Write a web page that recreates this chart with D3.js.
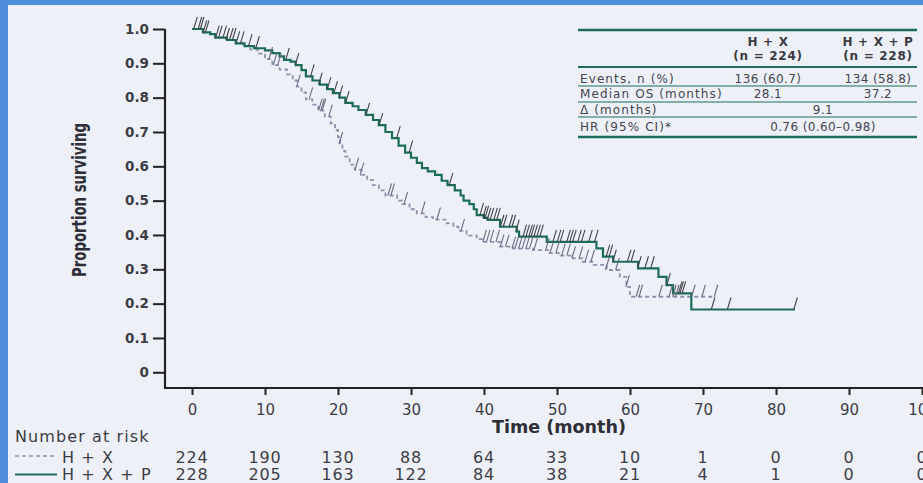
<!DOCTYPE html>
<html>
<head>
<meta charset="utf-8">
<script src="https://cdn.jsdelivr.net/npm/d3@7"></script>
<style>
  html, body { margin: 0; padding: 0; background: #eef0f8; overflow: hidden; }
  svg { display: block; }
</style>
</head>
<body>
<svg id="chart" width="923" height="483"></svg>
<script>
// ---- data ----
const xTicks = [0, 10, 20, 30, 40, 50, 60, 70, 80, 90, 100];
const yTicks = [0, 0.1, 0.2, 0.3, 0.4, 0.5, 0.6, 0.7, 0.8, 0.9, 1.0];
const yTickLabels = ["0", "0.1", "0.2", "0.3", "0.4", "0.5", "0.6", "0.7", "0.8", "0.9", "1.0"];
const groupNames = ["H + X", "H + X + P"];

// Number at risk at each x tick
const atRiskHX  = [224, 190, 130, 88, 64, 33, 10, 1, 0, 0, 0];
const atRiskHXP = [228, 205, 163, 122, 84, 38, 21, 4, 1, 0, 0];

// Kaplan-Meier steps: [month, proportion surviving after the step]
const stepsHX = [
  [0, 1.0], [1.5, 0.99], [2.5, 0.985], [3.2, 0.975], [4.8, 0.968], [6.0, 0.958],
  [7.0, 0.95], [8.0, 0.94], [9.0, 0.928], [10.0, 0.912], [11.0, 0.895], [12.0, 0.882],
  [13.0, 0.868], [13.8, 0.85], [14.4, 0.832], [15.0, 0.815], [15.6, 0.795], [16.5, 0.78],
  [17.3, 0.762], [18.2, 0.745], [19.0, 0.725], [19.6, 0.705], [20.0, 0.685], [20.3, 0.665],
  [20.6, 0.645], [21.0, 0.628], [21.6, 0.605], [22.3, 0.59], [23.2, 0.575], [24.0, 0.56],
  [24.8, 0.545], [25.6, 0.53], [26.5, 0.515], [28.1, 0.5], [28.8, 0.49], [29.8, 0.475],
  [30.8, 0.463], [32.0, 0.452], [33.0, 0.445], [34.9, 0.434], [35.8, 0.424], [36.5, 0.412],
  [37.6, 0.398], [39.0, 0.388], [40.0, 0.38], [42.2, 0.366], [44.0, 0.36], [46.7, 0.356],
  [49.0, 0.347], [50.5, 0.34], [52.2, 0.332], [53.5, 0.322], [55.0, 0.313], [56.8, 0.298],
  [58.6, 0.278], [59.5, 0.249], [60.0, 0.22]
];
const lastHX = 71.7;

const stepsHXP = [
  [0, 1.0], [1.5, 0.99], [2.5, 0.985], [3.2, 0.975], [4.8, 0.968], [6.0, 0.958],
  [7.2, 0.95], [8.5, 0.944], [10.0, 0.938], [11.0, 0.93], [12.0, 0.92], [12.6, 0.91],
  [13.5, 0.905], [14.2, 0.895], [15.0, 0.88], [15.6, 0.862], [16.5, 0.85], [17.5, 0.838],
  [18.5, 0.825], [19.3, 0.813], [20.2, 0.8], [21.0, 0.785], [22.0, 0.775], [22.8, 0.764],
  [23.8, 0.75], [24.8, 0.735], [25.6, 0.72], [26.5, 0.7], [27.4, 0.682], [28.3, 0.66],
  [29.2, 0.64], [30.0, 0.625], [30.8, 0.61], [31.5, 0.595], [32.3, 0.585], [33.3, 0.575],
  [34.2, 0.558], [35.0, 0.545], [36.0, 0.53], [36.8, 0.515], [37.2, 0.5], [38.0, 0.49],
  [38.6, 0.475], [39.0, 0.458], [40.0, 0.45], [40.5, 0.444], [42.2, 0.424], [44.5, 0.41],
  [44.8, 0.395], [48.6, 0.38], [55.4, 0.361], [56.3, 0.337], [57.7, 0.322], [61.1, 0.303],
  [63.9, 0.278], [65.0, 0.254], [65.9, 0.23], [68.4, 0.183]
];
const lastHXP = 82.6;

// Censoring times (months)
const censorHX = [
  10.7, 11.3, 11.9, 14.5, 16.2, 17.5, 17.8, 18.0, 18.9, 20.3, 22.5, 23.2, 27.0, 27.4,
  29.2, 31.6, 33.7, 37.0, 40.0, 40.5, 41.0, 41.8, 42.4, 43.1, 44.0, 44.4, 44.9, 45.4,
  45.9, 46.4, 47.0, 48.6, 49.2, 50.0, 50.8, 51.5, 52.2, 53.2, 54.0, 54.8, 56.8, 58.2,
  59.6, 61.0, 61.4, 64.1, 65.5, 66.0, 66.4, 68.6, 70.0, 71.7
];
const censorHXP = [
  0.4, 1.0, 1.3, 1.7, 2.0, 3.4, 3.8, 4.4, 4.8, 5.3, 5.7, 6.2, 6.8, 7.9, 8.9, 13.0,
  14.3, 16.4, 17.5, 18.7, 19.6, 20.3, 21.2, 24.0, 25.8, 28.2, 29.9, 35.4, 39.6, 40.0,
  40.3, 40.6, 41.0, 41.5, 41.9, 42.4, 42.8, 43.6, 44.0, 44.5, 45.5, 45.9, 46.3, 46.6,
  47.0, 47.4, 47.8, 49.6, 50.2, 50.6, 51.5, 51.9, 52.3, 53.0, 53.5, 54.5, 55.3, 56.9,
  57.3, 57.8, 59.8, 60.3, 61.2, 62.2, 63.0, 65.2, 66.8, 67.0, 67.3, 71.3, 73.5, 82.6
];

// Summary table
const tableHeader = [["H + X", "(n = 224)"], ["H + X + P", "(n = 228)"]];
const tableLabels = ["Events, n (%)", "Median OS (months)", "\u0394 (months)", "HR (95% CI)*"];
const tableHX  = ["136 (60.7)", "28.1"];
const tableHXP = ["134 (58.8)", "37.2"];
const tableJoint = ["9.1", "0.76 (0.60\u20130.98)"];

// ---- drawing ----
const svg = d3.select("#chart");
const W = 923, H = 483;
const green = "#1c6c58";
const dashCol = "#8c92ab";
const inkCol = "#3c3d45";
const font = "'DejaVu Sans', sans-serif";

// frame accents
svg.append("rect").attr("x", 0).attr("y", 0).attr("width", W).attr("height", H).attr("fill", "#eef0f8");
svg.append("rect").attr("x", 0).attr("y", 0).attr("width", W).attr("height", 5).attr("fill", "#4f8ddb");
svg.append("rect").attr("x", 0).attr("y", 0).attr("width", 8).attr("height", H).attr("fill", "#4f8ddb");

const x = d3.scaleLinear().domain([0, 100]).range([192, 922]);
const y = d3.scaleLinear().domain([0, 1]).range([372.3, 29]);
const axisX0 = 165, axisY0 = 388;

// y axis
const yAxis = d3.axisLeft(y).tickValues(yTicks)
  .tickFormat((d, i) => yTickLabels[i]).tickSize(12).tickPadding(4).tickSizeOuter(0);
const gy = svg.append("g").attr("transform", `translate(${axisX0},0)`).call(yAxis);
gy.select(".domain").remove();
gy.selectAll(".tick line").attr("stroke", "#222").attr("stroke-width", 2);
gy.selectAll(".tick text").attr("fill", inkCol).attr("font-family", font)
  .attr("font-weight", "bold").attr("font-size", 13.5);

// x axis
const xAxis = d3.axisBottom(x).tickValues(xTicks).tickSize(7).tickPadding(9).tickSizeOuter(0);
const gx = svg.append("g").attr("transform", `translate(0,${axisY0})`).call(xAxis);
gx.select(".domain").remove();
gx.selectAll(".tick line").attr("stroke", "#222").attr("stroke-width", 2);
gx.selectAll(".tick text").attr("fill", inkCol).attr("font-family", font)
  .attr("font-size", 15).attr("dy", "0.71em");

// axis lines
svg.append("path")
  .attr("d", `M${axisX0},${y(1)}V${axisY0}H${W + 2}`)
  .attr("fill", "none").attr("stroke", "#222").attr("stroke-width", 2.2);

// axis titles
svg.append("text")
  .attr("transform", `translate(86,200) rotate(-90)`)
  .attr("text-anchor", "middle")
  .attr("font-family", font).attr("font-weight", "bold").attr("font-size", 19)
  .attr("textLength", 154).attr("lengthAdjust", "spacingAndGlyphs")
  .attr("fill", "#2e2f36")
  .text("Proportion surviving");

svg.append("text")
  .attr("x", 559).attr("y", 433).attr("text-anchor", "middle")
  .attr("font-family", font).attr("font-weight", "bold").attr("font-size", 17)
  .attr("textLength", 134).attr("lengthAdjust", "spacingAndGlyphs")
  .attr("fill", "#2e2f36")
  .text("Time (month)");

// KM curves
function survAt(steps, t) {
  let s = steps[0][1];
  for (const [ti, si] of steps) { if (ti <= t) s = si; else break; }
  return s;
}
const line = d3.line().x(d => x(d[0])).y(d => y(d[1])).curve(d3.curveStepAfter);

const ptsHX = stepsHX.concat([[lastHX, stepsHX[stepsHX.length - 1][1]]]);
const ptsHXP = stepsHXP.concat([[lastHXP, stepsHXP[stepsHXP.length - 1][1]]]);

svg.append("path").datum(ptsHX).attr("d", line)
  .attr("fill", "none").attr("stroke", dashCol).attr("stroke-width", 1.8)
  .attr("stroke-dasharray", "4,3");

svg.append("path").datum(ptsHXP).attr("d", line)
  .attr("fill", "none").attr("stroke", green).attr("stroke-width", 2.2);

// censor ticks
function drawCensors(times, steps, color) {
  svg.append("g").selectAll("line").data(times).join("line")
    .attr("x1", d => x(d) - 1.2).attr("y1", d => y(survAt(steps, d)))
    .attr("x2", d => x(d) + 2.4).attr("y2", d => y(survAt(steps, d)) - 12)
    .attr("stroke", color).attr("stroke-width", 1.1);
}
drawCensors(censorHX, stepsHX, "#676b7e");
drawCensors(censorHXP, stepsHXP, "#424349");

// number at risk
svg.append("text").attr("x", 15).attr("y", 441.5)
  .attr("font-family", font).attr("font-size", 16).attr("letter-spacing", 1.1)
  .attr("fill", inkCol).text("Number at risk");

const riskRows = [
  { name: groupNames[0], vals: atRiskHX, yb: 462.5, ly: 456, dash: "4,3", col: dashCol, w: 1.6 },
  { name: groupNames[1], vals: atRiskHXP, yb: 480, ly: 474.5, dash: null, col: green, w: 2.2 }
];
riskRows.forEach(r => {
  svg.append("line").attr("x1", 15).attr("x2", 57).attr("y1", r.ly).attr("y2", r.ly)
    .attr("stroke", r.col).attr("stroke-width", r.w)
    .attr("stroke-dasharray", r.dash);
  svg.append("text").attr("x", 62).attr("y", r.yb)
    .attr("font-family", font).attr("font-size", 16).attr("letter-spacing", 1.1)
    .attr("fill", inkCol).text(r.name);
  svg.append("g").selectAll("text").data(r.vals).join("text")
    .attr("x", (d, i) => x(xTicks[i])).attr("y", r.yb)
    .attr("text-anchor", "middle")
    .attr("font-family", font).attr("font-size", 16).attr("letter-spacing", 0.8)
    .attr("fill", inkCol).text(d => d);
});

// summary table
const tb = svg.append("g").attr("font-family", font).attr("fill", "#45464e");
const tL = 578, tR = 917, c1 = 768, c2 = 878, cMid = (c1 + c2) / 2, labX = 580;
const hr = (yy, w) => tb.append("line").attr("x1", tL).attr("x2", tR)
  .attr("y1", yy).attr("y2", yy).attr("stroke", green).attr("stroke-width", w);
hr(30, 2.4); hr(67, 2); hr(86, 1); hr(102, 1); hr(117, 1); hr(137, 2.4);

[c1, c2].forEach((cx, i) => {
  tableHeader[i].forEach((t, j) => {
    tb.append("text").attr("x", cx).attr("y", 45.5 + j * 14.5)
      .attr("text-anchor", "middle").attr("font-weight", "bold")
      .attr("font-size", 12).attr("letter-spacing", 0.7).attr("fill", "#3a3b42").text(t);
  });
});
const rowBase = [82.8, 98, 114.3, 131.2];
tableLabels.forEach((t, i) => {
  tb.append("text").attr("x", labX).attr("y", rowBase[i])
    .attr("font-size", 12).attr("letter-spacing", 1.1).text(t);
});
tableHX.forEach((t, i) => {
  tb.append("text").attr("x", c1).attr("y", rowBase[i]).attr("text-anchor", "middle")
    .attr("font-size", 12).attr("letter-spacing", 0.4).text(t);
});
tableHXP.forEach((t, i) => {
  tb.append("text").attr("x", c2).attr("y", rowBase[i]).attr("text-anchor", "middle")
    .attr("font-size", 12).attr("letter-spacing", 0.4).text(t);
});
tableJoint.forEach((t, i) => {
  tb.append("text").attr("x", cMid).attr("y", rowBase[i + 2]).attr("text-anchor", "middle")
    .attr("font-size", 12).attr("letter-spacing", 0.4).text(t);
});
</script>
</body>
</html>
